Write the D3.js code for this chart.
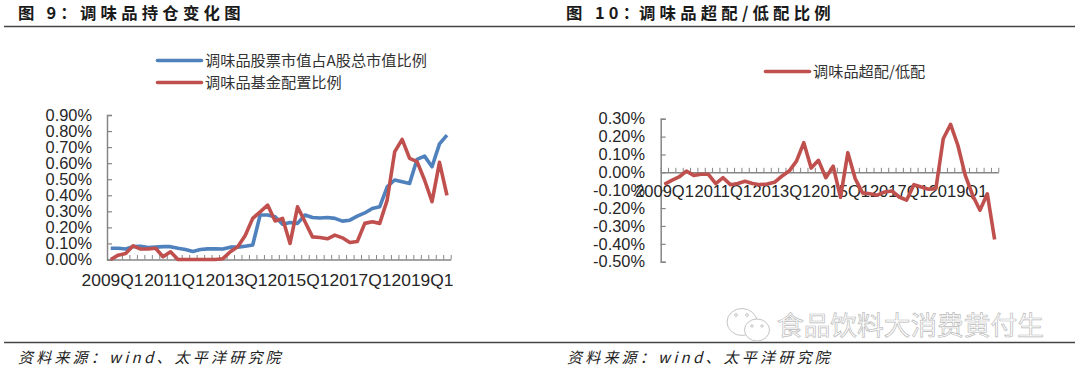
<!DOCTYPE html>
<html>
<head>
<meta charset="utf-8">
<script src="https://cdn.jsdelivr.net/npm/d3@7"></script>
<style>
  html, body { margin: 0; background: #fff; }
  svg { display: block; }
  text { font-family: "Liberation Sans", "Noto Sans CJK SC", sans-serif; }
  .cjk { font-family: "Noto Sans CJK SC", sans-serif; }
</style>
</head>
<body>
<div id="chart-area"></div>
<script>
const quarters = [
  "2009Q1","2009Q2","2009Q3","2009Q4","2010Q1","2010Q2","2010Q3","2010Q4",
  "2011Q1","2011Q2","2011Q3","2011Q4","2012Q1","2012Q2","2012Q3","2012Q4",
  "2013Q1","2013Q2","2013Q3","2013Q4","2014Q1","2014Q2","2014Q3","2014Q4",
  "2015Q1","2015Q2","2015Q3","2015Q4","2016Q1","2016Q2","2016Q3","2016Q4",
  "2017Q1","2017Q2","2017Q3","2017Q4","2018Q1","2018Q2","2018Q3","2018Q4",
  "2019Q1","2019Q2","2019Q3","2019Q4","2020Q1","2020Q2"
];
const xLabels = ["2009Q1","2011Q1","2013Q1","2015Q1","2017Q1","2019Q1"];

// percent values
const marketShare = [0.07,0.07,0.065,0.08,0.083,0.075,0.077,0.08,0.08,0.07,0.062,0.05,0.062,0.066,0.066,0.065,0.077,0.077,0.083,0.09,0.277,0.277,0.266,0.22,0.23,0.225,0.277,0.262,0.258,0.262,0.256,0.239,0.245,0.27,0.29,0.318,0.328,0.453,0.495,0.484,0.474,0.624,0.644,0.578,0.72,0.775];
const fundShare = [0,0.027,0.037,0.085,0.065,0.065,0.07,0.017,0.048,0,0,0,0,0,0,0.005,0.048,0.08,0.15,0.256,0.297,0.339,0.24,0.256,0.1,0.328,0.235,0.141,0.137,0.129,0.152,0.135,0.106,0.112,0.225,0.235,0.225,0.37,0.67,0.748,0.63,0.61,0.495,0.36,0.605,0.4];
const overweight = [-0.067,-0.045,-0.026,0.007,-0.017,-0.011,-0.011,-0.063,-0.03,-0.069,-0.063,-0.05,-0.063,-0.069,-0.065,-0.056,-0.022,0.007,0.063,0.166,0.024,0.067,-0.03,0.034,-0.14,0.11,-0.035,-0.115,-0.12,-0.128,-0.11,-0.104,-0.138,-0.156,-0.069,-0.082,-0.095,-0.091,0.188,0.268,0.15,-0.017,-0.128,-0.212,-0.12,-0.376];

const yTicksLeft = [0,0.1,0.2,0.3,0.4,0.5,0.6,0.7,0.8,0.9];
const yTicksRight = [-0.5,-0.4,-0.3,-0.2,-0.1,0,0.1,0.2,0.3];

const blue = "#4f81bd";
const red = "#c0504d";
const axisColor = "#868686";
const textColor = "#262626";

const svg = d3.select("#chart-area")
  .append("svg")
    .attr("width", 1080)
    .attr("height", 374);

// draws one panel: y axis, quarter ticks on the zero line, loose x labels, lines
function drawPanel(o) {
  const x = d3.scalePoint().domain(quarters).range([o.left, o.right]).padding(0.5);
  const y = d3.scaleLinear().domain(o.yDomain).range([o.bottom, o.top]);

  // y axis
  const yAxis = svg.append("g")
    .attr("transform", `translate(${o.left}, 0)`)
    .call(d3.axisRight(y).tickValues(o.yTicks).tickSize(5).tickFormat(d => d.toFixed(2) + "%"));
  yAxis.select(".domain").attr("stroke", axisColor).attr("stroke-width", 1.5);
  yAxis.selectAll(".tick line").attr("stroke", axisColor).attr("stroke-width", 1.2);
  yAxis.selectAll("text")
    .attr("x", o.yLabelX - o.left)
    .attr("text-anchor", "end")
    .attr("font-size", 16.4)
    .attr("fill", textColor);

  // x ticks sit between the quarters, pointing up
  const tickScale = d3.scaleLinear().domain([0, quarters.length]).range([o.left, o.right]);
  const xAxis = svg.append("g")
    .attr("transform", `translate(0, ${y(0)})`)
    .call(d3.axisBottom(tickScale).tickValues(d3.range(quarters.length + 1)).tickSize(-4.5).tickSizeOuter(0).tickFormat(""));
  xAxis.select(".domain").attr("stroke", axisColor).attr("stroke-width", 1.5);
  xAxis.selectAll(".tick line").attr("stroke", axisColor).attr("stroke-width", 1);

  // the labels run together as in the original, so they get their own scale
  const labelScale = d3.scalePoint().domain(xLabels).range(o.labelRange);
  const labelAxis = svg.append("g")
    .attr("transform", `translate(0, ${o.labelY})`)
    .call(d3.axisBottom(labelScale).tickSize(0));
  labelAxis.select(".domain").remove();
  labelAxis.selectAll("text")
    .attr("y", 0)
    .attr("dy", 0)
    .attr("font-size", o.labelSize)
    .attr("fill", textColor);

  const line = d3.line().x((d, i) => x(quarters[i])).y(d => y(d));
  o.series.forEach(s => {
    svg.append("path")
      .datum(s.values)
      .attr("fill", "none")
      .attr("stroke", s.color)
      .attr("stroke-width", 3.6)
      .attr("stroke-linejoin", "round")
      .attr("d", line);
  });

  // legend
  o.series.forEach((s, i) => {
    const ly = o.legendY + i * o.legendStep;
    svg.append("line")
      .attr("x1", o.legendX).attr("x2", o.legendX + 44)
      .attr("y1", ly).attr("y2", ly)
      .attr("stroke", s.color)
      .attr("stroke-width", 3.6)
      .attr("stroke-linecap", "round");
    svg.append("text")
      .attr("class", "cjk")
      .attr("x", o.legendX + 47.5)
      .attr("y", ly + 5.5)
      .attr("font-size", 15.2)
      .attr("fill", "#333")
      .text(s.name);
  });
}

drawPanel({
  left: 107, right: 450.7, top: 115, bottom: 259.5,
  yDomain: [0, 0.9], yTicks: yTicksLeft, yLabelX: 92,
  labelRange: [112, 422], labelY: 286, labelSize: 17.4,
  legendX: 157.5, legendY: 60.5, legendStep: 22,
  series: [
    { name: "调味品股票市值占A股总市值比例", values: marketShare, color: blue },
    { name: "调味品基金配置比例", values: fundShare, color: red }
  ]
});

drawPanel({
  left: 660.7, right: 998.3, top: 118.7, bottom: 261.7,
  yDomain: [-0.5, 0.3], yTicks: yTicksRight, yLabelX: 645,
  labelRange: [664, 957.5], labelY: 197, labelSize: 16.5,
  legendX: 765.5, legendY: 71.5, legendStep: 22,
  series: [
    { name: "调味品超配/低配", values: overweight, color: red }
  ]
});

// titles and rules, three pieces because of the wide gaps in the original
const titles = [
  { fig: "图", num: "9：", rest: "调味品持仓变化图", xs: [18, 46.5, 80] },
  { fig: "图", num: "10：", rest: "调味品超配/低配比例", xs: [566, 595, 639] }
];
titles.forEach(t => {
  [t.fig, t.num, t.rest].forEach((piece, i) => {
    svg.append("text")
      .attr("class", "cjk")
      .attr("x", t.xs[i])
      .attr("y", 19.3)
      .attr("font-size", 16.4)
      .attr("font-weight", 700)
      .attr("letter-spacing", 4.2)
      .attr("fill", "#1a1a1a")
      .text(piece);
  });
});

[26.5, 342.5].forEach(yy => {
  svg.append("line")
    .attr("x1", 4).attr("x2", 1075)
    .attr("y1", yy).attr("y2", yy)
    .attr("stroke", "#444")
    .attr("stroke-width", 1.5);
});

// source notes
[18, 567].forEach(sx => {
  svg.append("text")
    .attr("class", "cjk")
    .attr("x", sx)
    .attr("y", 363)
    .attr("font-size", 15)
    .attr("font-style", "italic")
    .attr("letter-spacing", 3.2)
    .attr("fill", "#222")
    .text("资料来源：wind、太平洋研究院");
});

// watermark
const mark = svg.append("g").attr("fill", "#fff").attr("stroke", "#c4c4c4").attr("stroke-width", 1);
mark.append("ellipse").attr("cx", 742).attr("cy", 322).attr("rx", 15).attr("ry", 13.5);
mark.append("ellipse").attr("cx", 757).attr("cy", 330).attr("rx", 12.5).attr("ry", 11);
mark.append("circle").attr("cx", 736).attr("cy", 315).attr("r", 1.4);
mark.append("circle").attr("cx", 747).attr("cy", 315).attr("r", 1.4);
mark.append("circle").attr("cx", 752).attr("cy", 326).attr("r", 1.2);
mark.append("circle").attr("cx", 762).attr("cy", 326).attr("r", 1.2);
svg.append("text")
  .attr("class", "cjk")
  .attr("x", 777)
  .attr("y", 335)
  .attr("font-size", 26.7)
  .attr("fill", "#fff")
  .attr("stroke", "#bbb")
  .attr("stroke-width", 0.7)
  .text("食品饮料大消费黄付生");
</script>
</body>
</html>
